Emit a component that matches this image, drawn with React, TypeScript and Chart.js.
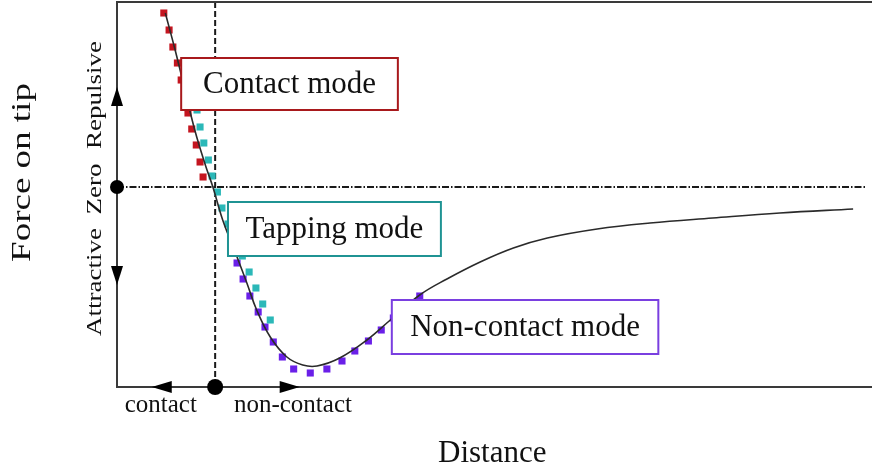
import React, { useEffect, useRef } from "react";
import { Chart, registerables } from "chart.js";
Chart.register(...registerables);

// Force-distance curve (arbitrary units; zero force at y = 0)
const curveX = [0.64, 0.77, 0.9, 1.03, 1.17, 1.27, 1.4, 1.59, 1.72, 1.85, 2.03, 2.25, 2.46, 2.65, 2.95, 3.31, 3.62, 4.01, 4.37, 4.81, 5.25, 5.7, 6.36, 7.06, 7.89, 8.78, 9.75];
const curveY = [3.48, 2.74, 1.94, 1.14, 0.44, 0, -0.66, -1.4, -1.92, -2.46, -3.0, -3.4, -3.56, -3.58, -3.42, -3.06, -2.66, -2.16, -1.84, -1.5, -1.22, -1.02, -0.84, -0.72, -0.62, -0.52, -0.44];

// Operating-mode regions (dotted markers)
const contactX = [0.62, 0.69, 0.74, 0.8, 0.85, 0.9, 0.94, 0.99, 1.05, 1.1, 1.14];
const contactY = [3.48, 3.14, 2.8, 2.48, 2.14, 1.82, 1.48, 1.16, 0.84, 0.5, 0.2];
const tappingX = [1.06, 1.1, 1.15, 1.21, 1.26, 1.33, 1.39, 1.47, 1.55, 1.66, 1.75, 1.84, 1.93, 2.03];
const tappingY = [1.54, 1.2, 0.88, 0.54, 0.22, -0.1, -0.42, -0.74, -1.06, -1.38, -1.7, -2.02, -2.34, -2.66];
const nonContactX = [1.55, 1.59, 1.67, 1.76, 1.87, 1.96, 2.07, 2.19, 2.34, 2.56, 2.78, 2.98, 3.15, 3.33, 3.5, 3.66, 3.83, 4.01];
const nonContactY = [-1.26, -1.52, -1.84, -2.18, -2.5, -2.8, -3.1, -3.4, -3.64, -3.72, -3.64, -3.48, -3.28, -3.08, -2.86, -2.62, -2.4, -2.18];

const modeLabels = ["Contact mode", "Tapping mode", "Non-contact mode"];
const xRange = [0, 10];
const yRange = [-4, 3.7];
const contactBoundaryX = 1.3;
const zeroLineEndX = 9.92;

// annotation boxes in data units: [x0, x1, yTop, yBottom]
const modeBoxes = [
  [0.85, 3.72, 2.58, 1.54],
  [1.47, 4.29, -0.3, -1.38],
  [3.64, 7.17, -2.26, -3.34],
];
const modeColors = ["#a8191c", "#1f9393", "#7a3fe0"];
const markerColors = ["#c4151f", "#2bb8b8", "#6a1fe8"];

const serif = "'Liberation Serif', 'Times New Roman', serif";

function toPts(xs: number[], ys: number[]) {
  return xs.map((v, i) => ({ x: v, y: ys[i] }));
}

function vText(ctx: CanvasRenderingContext2D, text: string, bx: number, cy: number, size: number, stretch: number) {
  ctx.save();
  ctx.translate(bx, cy);
  ctx.rotate(-Math.PI / 2);
  ctx.scale(stretch, 1);
  ctx.font = `${size}px ${serif}`;
  ctx.textAlign = "center";
  ctx.textBaseline = "alphabetic";
  ctx.fillStyle = "#111";
  ctx.fillText(text, 0, 0);
  ctx.restore();
}

function arrowHead(ctx: CanvasRenderingContext2D, tx: number, ty: number, dx: number, dy: number, len: number, half: number) {
  const bx = tx - dx * len;
  const by = ty - dy * len;
  ctx.beginPath();
  ctx.moveTo(tx, ty);
  ctx.lineTo(bx - dy * half, by + dx * half);
  ctx.lineTo(bx + dy * half, by - dx * half);
  ctx.closePath();
  ctx.fill();
}

const overlay = {
  id: "overlay",
  beforeDatasetsDraw(chart: any) {
    const { ctx, chartArea: a, scales } = chart;
    const x = scales.x, y = scales.y;
    const y0 = y.getPixelForValue(0);
    const xc = x.getPixelForValue(contactBoundaryX);
    ctx.save();
    ctx.strokeStyle = "#1a1a1a";
    ctx.lineWidth = 1.8;
    ctx.setLineDash([7, 2, 1.5, 2]);
    ctx.beginPath();
    ctx.moveTo(a.left, y0);
    ctx.lineTo(x.getPixelForValue(zeroLineEndX), y0);
    ctx.stroke();
    ctx.setLineDash([6, 3]);
    ctx.lineWidth = 2;
    ctx.beginPath();
    ctx.moveTo(xc, a.top);
    ctx.lineTo(xc, a.bottom);
    ctx.stroke();
    ctx.setLineDash([]);
    ctx.strokeStyle = "#3a3a3a";
    ctx.lineWidth = 2;
    ctx.beginPath();
    ctx.moveTo(a.right, a.top);
    ctx.lineTo(a.left, a.top);
    ctx.lineTo(a.left, a.bottom);
    ctx.lineTo(a.right, a.bottom);
    ctx.stroke();
    ctx.restore();
  },
  afterDatasetsDraw(chart: any) {
    const { ctx, chartArea: a, scales } = chart;
    const x = scales.x, y = scales.y;
    ctx.save();
    // mode boxes
    modeBoxes.forEach((b, i) => {
      const l = x.getPixelForValue(b[0]);
      const r = x.getPixelForValue(b[1]);
      const t = y.getPixelForValue(b[2]);
      const btm = y.getPixelForValue(b[3]);
      ctx.fillStyle = "#ffffff";
      ctx.fillRect(l, t, r - l, btm - t);
      ctx.strokeStyle = modeColors[i];
      ctx.lineWidth = 2;
      ctx.strokeRect(l, t, r - l, btm - t);
      ctx.fillStyle = "#111";
      ctx.font = `31px ${serif}`;
      ctx.textAlign = "center";
      ctx.textBaseline = "middle";
      ctx.fillText(modeLabels[i], (l + r) / 2, (t + btm) / 2 + 1);
    });
    // arrows on axes
    ctx.fillStyle = "#000";
    arrowHead(ctx, a.left, y.getPixelForValue(2.0), 0, -1, 19, 6);
    arrowHead(ctx, a.left, y.getPixelForValue(-1.96), 0, 1, 19, 6);
    arrowHead(ctx, x.getPixelForValue(0.46), a.bottom, -1, 0, 20, 6);
    arrowHead(ctx, x.getPixelForValue(2.42), a.bottom, 1, 0, 20, 6);
    // dots
    ctx.beginPath();
    ctx.arc(a.left, y.getPixelForValue(0), 7, 0, Math.PI * 2);
    ctx.fill();
    ctx.beginPath();
    ctx.arc(x.getPixelForValue(contactBoundaryX), a.bottom, 8, 0, Math.PI * 2);
    ctx.fill();
    // left labels
    const lb = a.left - 16;
    vText(ctx, "Repulsive", lb, y.getPixelForValue(1.84), 20, 1.35);
    vText(ctx, "Zero", lb, y.getPixelForValue(-0.04), 20, 1.35);
    vText(ctx, "Attractive", lb, y.getPixelForValue(-1.9), 20, 1.35);
    vText(ctx, "Force on tip", a.left - 87, y.getPixelForValue(0.29), 27, 1.37);
    // bottom labels
    ctx.fillStyle = "#111";
    ctx.font = `25px ${serif}`;
    ctx.textAlign = "center";
    ctx.textBaseline = "alphabetic";
    ctx.fillText("contact", x.getPixelForValue(0.58), a.bottom + 25);
    ctx.fillText("non-contact", x.getPixelForValue(2.33), a.bottom + 25);
    ctx.font = `31px ${serif}`;
    ctx.fillText("Distance", x.getPixelForValue(4.97), a.bottom + 75);
    ctx.restore();
  },
};

export default function App() {
  const ref = useRef<HTMLCanvasElement>(null);
  useEffect(() => {
    if (!ref.current) return;
    const markerDs = (label: string, xs: number[], ys: number[], color: string) => ({
      label,
      data: toPts(xs, ys),
      showLine: false,
      pointStyle: "rect",
      pointRadius: 5,
      pointBackgroundColor: color,
      pointBorderColor: color,
      pointBorderWidth: 0,
    });
    const chart = new Chart(ref.current, {
      type: "scatter",
      data: {
        datasets: [
          {
            label: "Force",
            data: toPts(curveX, curveY),
            showLine: true,
            borderColor: "#2a2a2a",
            borderWidth: 1.6,
            pointRadius: 0,
            tension: 0.4,
            fill: false,
          } as any,
          markerDs(modeLabels[0], contactX, contactY, markerColors[0]),
          markerDs(modeLabels[1], tappingX, tappingY, markerColors[1]),
          markerDs(modeLabels[2], nonContactX, nonContactY, markerColors[2]),
        ],
      },
      options: {
        responsive: false,
        animation: false,
        devicePixelRatio: 1,
        layout: { autoPadding: false, padding: { left: 117, top: 2, right: 0, bottom: 81 } },
        plugins: { legend: { display: false }, tooltip: { enabled: false } },
        scales: {
          x: { type: "linear", display: false, min: xRange[0], max: xRange[1] },
          y: { type: "linear", display: false, min: yRange[0], max: yRange[1] },
        },
      },
      plugins: [overlay],
    } as any);
    return () => chart.destroy();
  }, []);
  return (
    <div style={{ position: "fixed", left: 0, top: 0, width: 872, height: 468, background: "#fff" }}>
      <canvas ref={ref} width={872} height={468} style={{ width: 872, height: 468, display: "block" }} />
    </div>
  );
}
